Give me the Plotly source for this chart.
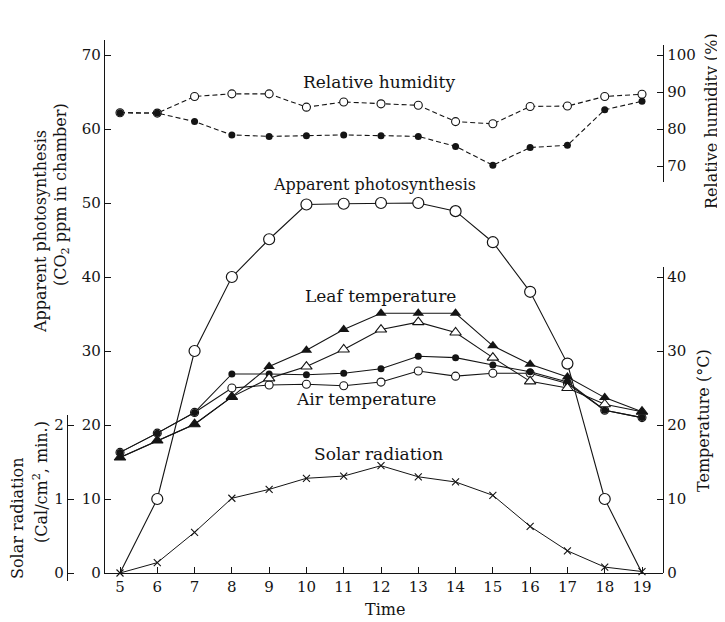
import plotly.graph_objects as go

# ---------------- data ----------------
hours = [5, 6, 7, 8, 9, 10, 11, 12, 13, 14, 15, 16, 17, 18, 19]
hour_labels = [str(h) for h in hours]

# Apparent photosynthesis (CO2 ppm in chamber)
photosynthesis = [0, 10, 30, 40, 45.1, 49.8, 49.9, 50.0, 50.0, 48.9, 44.7, 38.0, 28.3, 10, 0]

# Relative humidity (%)
rh_open = [84.4, 84.3, 88.8, 89.5, 89.5, 85.9, 87.3, 86.8, 86.4, 82.0, 81.4, 86.1, 86.2, 88.8, 89.4]
rh_filled = [84.4, 84.3, 82.0, 78.4, 78.0, 78.2, 78.4, 78.2, 78.0, 75.3, 70.2, 75.0, 75.6, 85.2, 87.5]

# Leaf temperature (deg C)
leaf_filled = [15.6, 17.9, 20.1, 23.8, 27.9, 30.1, 32.9, 35.1, 35.1, 35.1, 30.7, 28.2, 26.5, 23.7, 21.8]
leaf_open = [15.6, 17.9, 20.1, 23.8, 26.3, 27.9, 30.2, 32.9, 33.9, 32.5, 29.1, 25.9, 25.0, 22.8, 21.8]

# Air temperature (deg C)
air_filled = [16.3, 18.9, 21.7, 26.9, 26.9, 26.8, 27.0, 27.6, 29.3, 29.1, 28.1, 27.2, 25.8, 22.0, 21.0]
air_open = [16.3, 18.9, 21.7, 25.0, 25.4, 25.5, 25.3, 25.8, 27.3, 26.6, 27.0, 27.0, 25.6, 22.0, 21.0]

# Solar radiation (Cal/cm2, min.)
solar = [0.0, 0.14, 0.55, 1.01, 1.13, 1.28, 1.31, 1.45, 1.30, 1.23, 1.05, 0.63, 0.30, 0.08, 0.02]

ps_ticks = [0, 10, 20, 30, 40, 50, 60, 70]
rh_ticks = [70, 80, 90, 100]
temp_ticks = [0, 10, 20, 30, 40]
solar_ticks = [0, 1, 2]

# ---------------- layout geometry ----------------
# the page body adds an 8px margin, so the figure is drawn 8px in from the corner
OFF = 8
W, H = 725 - OFF, 622 - OFF
ML, MR, MT, MB = 67 - OFF, 62, 40 - OFF, 41
PW, PH = W - ML - MR, H - MT - MB


def fx(px):
    """target-screen x pixel -> paper fraction"""
    return (px - OFF - ML) / PW


def fy(py):
    """target-screen y pixel -> paper fraction"""
    return (H - MB - (py - OFF)) / PH


INK = "#141414"
FONT = "DejaVu Serif"
tickfont = dict(family=FONT, size=15, color=INK)

fig = go.Figure()

# Apparent photosynthesis
fig.add_trace(go.Scatter(
    x=hours, y=photosynthesis, mode="lines+markers", xaxis="x", yaxis="y",
    line=dict(color=INK, width=1.1),
    marker=dict(symbol="circle", size=11, color="white",
                opacity=[0] + [1] * (len(hours) - 2) + [0],
                line=dict(color=INK, width=1.2)),
    cliponaxis=False, showlegend=False))

# Relative humidity
fig.add_trace(go.Scatter(
    x=hours, y=rh_open, mode="lines+markers", xaxis="x", yaxis="y2",
    line=dict(color=INK, width=1.1, dash="5px,3px"),
    marker=dict(symbol="circle", size=8, color="white", line=dict(color=INK, width=1.1)),
    cliponaxis=False, showlegend=False))
fig.add_trace(go.Scatter(
    x=hours, y=rh_filled, mode="lines+markers", xaxis="x", yaxis="y2",
    line=dict(color=INK, width=1.1, dash="5px,3px"),
    marker=dict(symbol="circle", size=7, color=INK),
    cliponaxis=False, showlegend=False))

# Temperatures
fig.add_trace(go.Scatter(
    x=hours, y=air_open, mode="lines+markers", xaxis="x", yaxis="y3",
    line=dict(color=INK, width=1.1),
    marker=dict(symbol="circle", size=8, color="white", line=dict(color=INK, width=1.1)),
    cliponaxis=False, showlegend=False))
fig.add_trace(go.Scatter(
    x=hours, y=air_filled, mode="lines+markers", xaxis="x", yaxis="y3",
    line=dict(color=INK, width=1.1),
    marker=dict(symbol="circle", size=7, color=INK),
    cliponaxis=False, showlegend=False))
fig.add_trace(go.Scatter(
    x=hours, y=leaf_open, mode="lines+markers", xaxis="x", yaxis="y3",
    line=dict(color=INK, width=1.1),
    marker=dict(symbol="triangle-up", size=10, color="white", line=dict(color=INK, width=1.1)),
    cliponaxis=False, showlegend=False))
fig.add_trace(go.Scatter(
    x=hours, y=leaf_filled, mode="lines+markers", xaxis="x", yaxis="y3",
    line=dict(color=INK, width=1.1),
    marker=dict(symbol="triangle-up", size=10, color=INK),
    cliponaxis=False, showlegend=False))

# Solar radiation
fig.add_trace(go.Scatter(
    x=hours, y=solar, mode="lines+markers", xaxis="x", yaxis="y4",
    line=dict(color=INK, width=1.0),
    marker=dict(symbol="x-thin", size=7, line=dict(color=INK, width=1.1)),
    cliponaxis=False, showlegend=False))

axis_common = dict(showline=True, linecolor=INK, linewidth=1.4, ticks="inside",
                   ticklen=6, tickwidth=1.2, tickcolor=INK, showgrid=False,
                   zeroline=False, tickfont=tickfont, fixedrange=True)

fig.update_layout(
    width=W, height=H,
    margin=dict(l=ML, r=MR, t=MT, b=MB, pad=0),
    paper_bgcolor="white", plot_bgcolor="rgba(0,0,0,0)",
    font=dict(family=FONT, color=INK),
    xaxis=dict(domain=[fx(105), 1], range=[5 - 15 / 37.29, 19 + 21 / 37.29],
               tickvals=hours, ticktext=hour_labels, anchor="y", **axis_common),
    yaxis=dict(domain=[fy(573), 1], range=[0, (573 - 40) / 7.4], tickvals=ps_ticks,
               anchor="x", side="left", **axis_common),
    yaxis2=dict(domain=[fy(182), fy(45)], range=[100 - (182 - 55) / 3.7, 100 + (55 - 45) / 3.7],
                tickvals=rh_ticks, anchor="x", side="right", **axis_common),
    yaxis3=dict(domain=[fy(573), fy(267)], range=[0, (573 - 267) / 7.4],
                tickvals=temp_ticks, anchor="x", side="right", **axis_common),
    yaxis4=dict(domain=[0, fy(415)], range=[-(581 - 573) / 74, (573 - 415) / 74],
                tickvals=solar_ticks, anchor="free", position=0, side="left", **axis_common),
)

ann_font = dict(family=FONT, size=16, color=INK)


def label(text, px, py, angle=0, size=16):
    fig.add_annotation(text=text, x=fx(px), y=fy(py), xref="paper", yref="paper",
                       showarrow=False, textangle=angle,
                       font=dict(family=FONT, size=size, color=INK),
                       xanchor="center", yanchor="middle")


# in-plot series labels
label("Relative humidity", 379, 82, size=17)
label("Apparent photosynthesis", 374, 184)
label("Leaf temperature", 380, 296, size=17)
label("Air temperature", 366, 399, size=17)
label("Solar radiation", 378, 454, size=17)

# axis titles
label("Time", 385, 609)
label("Apparent photosynthesis", 40, 232, -90)
label("(CO<sub>2</sub> ppm in chamber)", 62, 195, -90)
label("Solar radiation", 17, 518, -90)
label("(Cal/cm<sup>2</sup>, min.)", 40, 482, -90)
label("Relative humidity (%)", 711, 121, -90)
label("Temperature (°C)", 703, 420, -90)

fig.write_html("out.html")
